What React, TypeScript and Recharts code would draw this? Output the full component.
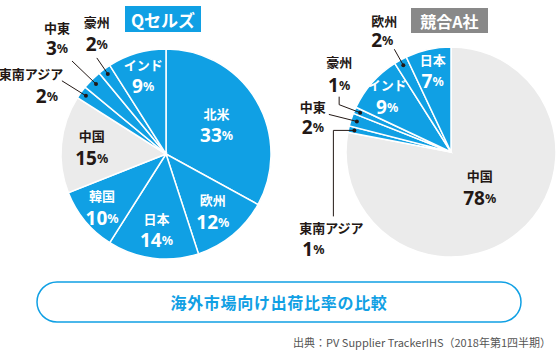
import React from "react";
import { PieChart, Pie, Cell } from "recharts";

// Qセルズ: 12時から時計回り
const qcellsRegions = ["北米", "欧州", "日本", "韓国", "中国", "東南アジア", "中東", "豪州", "インド"];
const qcellsShares = [33, 12, 14, 10, 15, 2, 3, 2, 9];

// 競合A社: 12時から時計回り
const rivalRegions = ["中国", "東南アジア", "中東", "豪州", "インド", "欧州", "日本"];
const rivalShares = [78, 1, 2, 1, 9, 2, 7];

const qcellsData = qcellsRegions.map((name, i) => ({ name, value: qcellsShares[i] }));
const rivalData = rivalRegions.map((name, i) => ({ name, value: rivalShares[i] }));

const BLUE = "#10a0e4";
const GRAY = "#ebebeb";
const INK = "#231815";
const JP = '"Noto Sans CJK JP", "Noto Sans", sans-serif';
const NUM = '"Noto Sans", "Noto Sans CJK JP", sans-serif';

type Place =
  | { kind: "in"; r: number }
  | { kind: "out"; path: [number, number][]; name: [number, number]; pct: [number, number] };

// label placement (fraction of radius for inside, pixel offsets from the slice dot for outside)
const qcellsLayout: Record<string, Place> = {
  北米: { kind: "in", r: 0.56 },
  欧州: { kind: "in", r: 0.7 },
  日本: { kind: "in", r: 0.72 },
  韓国: { kind: "in", r: 0.79 },
  中国: { kind: "in", r: 0.71 },
  インド: { kind: "in", r: 0.78 },
  東南アジア: { kind: "out", path: [[-24, -15]], name: [-55, -22], pct: [-39, 0] },
  中東: { kind: "out", path: [[-24, -23]], name: [-39, -56], pct: [-39, -36] },
  豪州: { kind: "out", path: [[-11, -16]], name: [-11, -52], pct: [-11, -30] },
};

const rivalLayout: Record<string, Place> = {
  中国: { kind: "in", r: 0.43 },
  インド: { kind: "in", r: 0.81 },
  日本: { kind: "in", r: 0.8 },
  欧州: { kind: "out", path: [[-9, -16]], name: [-19, -45], pct: [-21, -25] },
  豪州: { kind: "out", path: [[-21, -8], [-21, -16]], name: [-21, -51], pct: [-21, -28] },
  中東: { kind: "out", path: [[-28, -7]], name: [-44, -15], pct: [-44, 6] },
  東南アジア: { kind: "out", path: [[-21, 0], [-21, 86]], name: [-23, 97], pct: [-41, 119] },
};

function Pct({ x, y, value, color }: { x: number; y: number; value: number; color: string }) {
  return (
    <text x={x} y={y} textAnchor="middle" dominantBaseline="central" fontFamily={NUM} fontWeight={700} fill={color}>
      <tspan fontSize={19}>{value}</tspan>
      <tspan fontSize={12.5}>%</tspan>
    </text>
  );
}

function Name({ x, y, name, color }: { x: number; y: number; name: string; color: string }) {
  return (
    <text x={x} y={y} textAnchor="middle" dominantBaseline="central" fontFamily={JP} fontWeight={700} fontSize={13} fill={color}>
      {name}
    </text>
  );
}

function makeLabel(names: string[], values: number[], layout: Record<string, Place>) {
  return (props: any) => {
    const { cx, cy, midAngle, outerRadius, index } = props;
    const name = names[index];
    const value = values[index];
    const place = layout[name];
    const a = (-midAngle * Math.PI) / 180;
    if (place.kind === "in") {
      const x = cx + outerRadius * place.r * Math.cos(a);
      const y = cy + outerRadius * place.r * Math.sin(a);
      const color = name === "中国" ? INK : "#fff";
      return (
        <g key={name}>
          <Name x={x} y={y - 11} name={name} color={color} />
          <Pct x={x} y={y + 11} value={value} color={color} />
        </g>
      );
    }
    const dr = outerRadius - 6;
    const dx = cx + dr * Math.cos(a);
    const dy = cy + dr * Math.sin(a);
    const pts = [[dx, dy], ...place.path.map(([ox, oy]) => [dx + ox, dy + oy])];
    return (
      <g key={name}>
        <polyline points={pts.map((p) => p.join(",")).join(" ")} fill="none" stroke={INK} strokeWidth={1} />
        <circle cx={dx} cy={dy} r={2} fill={INK} />
        <Name x={dx + place.name[0]} y={dy + place.name[1]} name={name} color={INK} />
        <Pct x={dx + place.pct[0]} y={dy + place.pct[1]} value={value} color={INK} />
      </g>
    );
  };
}

export default function App() {
  return (
    <div style={{ position: "relative", width: 560, height: 352, background: "#fff" }}>
      <style>{`body{margin:0}`}</style>
      <div style={{ position: "absolute", left: 0, top: 0 }}>
        <PieChart width={560} height={352} margin={{ top: 0, right: 0, bottom: 0, left: 0 }}>
          <Pie
            data={qcellsData}
            dataKey="value"
            nameKey="name"
            cx={166}
            cy={154}
            outerRadius={105}
            startAngle={90}
            endAngle={-270}
            stroke="#fff"
            strokeWidth={1.5}
            label={makeLabel(qcellsRegions, qcellsShares, qcellsLayout)}
            labelLine={false}
            isAnimationActive={false}
          >
            {qcellsData.map((d) => (
              <Cell key={d.name} fill={d.name === "中国" ? GRAY : BLUE} />
            ))}
          </Pie>
          <Pie
            data={rivalData}
            dataKey="value"
            nameKey="name"
            cx={451}
            cy={152}
            outerRadius={105}
            startAngle={90}
            endAngle={-270}
            stroke="#fff"
            strokeWidth={1.5}
            label={makeLabel(rivalRegions, rivalShares, rivalLayout)}
            labelLine={false}
            isAnimationActive={false}
          >
            {rivalData.map((d) => (
              <Cell key={d.name} fill={d.name === "中国" ? GRAY : BLUE} />
            ))}
          </Pie>
        </PieChart>
      </div>
      <svg width={560} height={352} style={{ position: "absolute", left: 0, top: 0, pointerEvents: "none" }}>
        <rect x={125} y={6} width={76} height={26} fill={BLUE} />
        <text x={163} y={19.5} textAnchor="middle" dominantBaseline="central" fontFamily={JP} fontWeight={700} fontSize={17} fill="#fff">
          Qセルズ
        </text>
        <rect x={411} y={8} width={77} height={25} fill="#898989" />
        <text x={449.5} y={20.5} textAnchor="middle" dominantBaseline="central" fontFamily={JP} fontWeight={700} fontSize={16} fill="#fff">
          競合A社
        </text>
        <rect x={37} y={282} width={484} height={40} rx={20} fill="#fff" stroke={BLUE} strokeWidth={1.5} />
        <text x={279} y={302} textAnchor="middle" dominantBaseline="central" fontFamily={JP} fontWeight={700} fontSize={16} letterSpacing={0.7} fill={BLUE}>
          海外市場向け出荷比率の比較
        </text>
        <text x={551} y={342} textAnchor="end" dominantBaseline="central" fontFamily={JP} fontSize={11} fill="#555">
          出典：PV Supplier TrackerIHS（2018年第1四半期）
        </text>
      </svg>
    </div>
  );
}
